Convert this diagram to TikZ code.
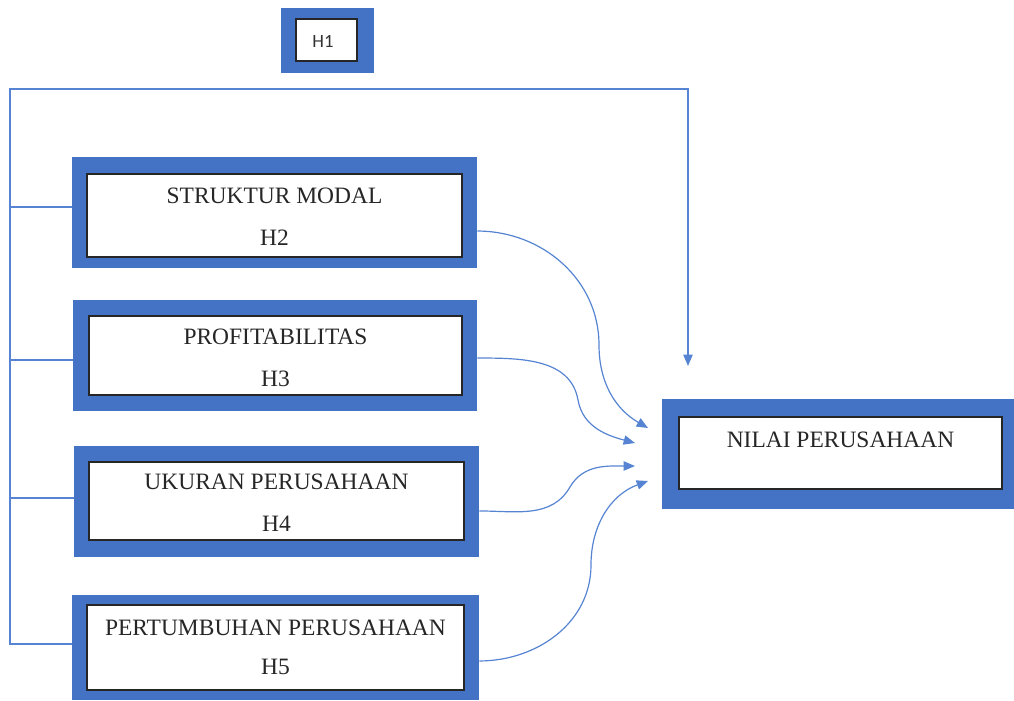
\documentclass[tikz,border=0pt]{standalone}
\usepackage{fontspec}
\setmainfont{Liberation Serif}
\newfontfamily\hfont{Carlito}
\usetikzlibrary{fit,arrows.meta}
\definecolor{boxblue}{RGB}{68,114,196}
\definecolor{linkblue}{RGB}{86,132,210}
\begin{document}
\begin{tikzpicture}[x=0.75pt,y=-0.75pt,
  outerbox/.style={fill=boxblue, draw=none, inner sep=0pt, rectangle},
  innerbox/.style={fill=white, draw=black!85, line width=0.9pt, inner sep=0pt, rectangle},
  lbl/.style={anchor=base, font=\fontsize{17.6}{20}\selectfont, text=black!85, inner sep=0pt},
  hlbl/.style={font=\hfont\fontsize{14}{16}\selectfont, text=black!80, inner sep=0pt},
  conn/.style={draw=linkblue, line width=0.9pt},
  arr/.style={conn, -{Triangle[length=8.5pt,width=7pt]}}
]
\useasboundingbox (0,0) rectangle (1014,700);

% H1 box
\node[outerbox, fit={(281,8) (374,73)}] (oh) {};
\node[innerbox, fit={(296,19) (357,61)}] (ih) {};
\node[hlbl] (th) at (323,41) {H1};

% Box 1
\node[outerbox, fit={(72,157) (477,268)}] (o1) {};
\node[innerbox, fit={(87,174) (462,257)}] (i1) {};
\node[lbl] (t1a) at (274.5,203) {STRUKTUR MODAL};
\node[lbl] (t1b) at (274.5,245) {H2};

% Box 2
\node[outerbox, fit={(73,300) (477,411)}] (o2) {};
\node[innerbox, fit={(89,316) (462,395)}] (i2) {};
\node[lbl] (t2a) at (275.5,344) {PROFITABILITAS};
\node[lbl] (t2b) at (275.5,386) {H3};

% Box 3
\node[outerbox, fit={(74,446) (479,557)}] (o3) {};
\node[innerbox, fit={(89,462) (464,540)}] (i3) {};
\node[lbl] (t3a) at (276.5,489) {UKURAN PERUSAHAAN};
\node[lbl] (t3b) at (276.5,531) {H4};

% Box 4
\node[outerbox, fit={(72,595) (479,700)}] (o4) {};
\node[innerbox, fit={(87,605) (464,690)}] (i4) {};
\node[lbl] (t4a) at (275.5,635) {PERTUMBUHAN PERUSAHAAN};
\node[lbl] (t4b) at (275.5,674) {H5};

% Nilai Perusahaan
\node[outerbox, fit={(662,399) (1014,509)}] (on) {};
\node[innerbox, fit={(679,417) (1002,489)}] (in) {};
\node[lbl] (tn) at (840.5,447) {NILAI PERUSAHAAN};

% H1 connector
\coordinate (corner) at (10,89);
\coordinate (ttop) at (688,89);
\coordinate (tip) at (688,366);
\draw[arr] ([yshift=2.6pt]o4.west) -- ([yshift=2.6pt]o4.west -| corner) -- (corner) -- (ttop) -- (tip);
\draw[conn] ([yshift=4.1pt]o1.west) -- ([yshift=4.1pt]o1.west -| corner);
\draw[conn] ([yshift=-3.4pt]o2.west) -- ([yshift=-3.4pt]o2.west -| corner);
\draw[conn] ([yshift=2.6pt]o3.west) -- ([yshift=2.6pt]o3.west -| corner);

% curved arrows
\coordinate (e1) at (648,428);
\coordinate (e2) at (635,443);
\coordinate (e3) at (635,466);
\coordinate (e4) at (648,481);
\coordinate (m1) at (599,345);
\coordinate (m2) at (578,400);
\coordinate (m3) at (570,487);
\coordinate (m4) at (591,565);
\draw[arr] ([yshift=-13.9pt]o1.east) to[out=0,in=90] (m1) to[out=-90,in=150] (e1);
\draw[arr] ([yshift=-1.9pt]o2.east) to[out=0,in=100] (m2) to[out=-80,in=165] (e2);
\draw[arr] ([yshift=-7.1pt]o3.east) to[out=0,in=-120] (m3) to[out=60,in=180] (e3);
\draw[arr] ([yshift=-10.1pt]o4.east) to[out=0,in=-90] (m4) to[out=90,in=200] (e4);
\end{tikzpicture}
\end{document}
